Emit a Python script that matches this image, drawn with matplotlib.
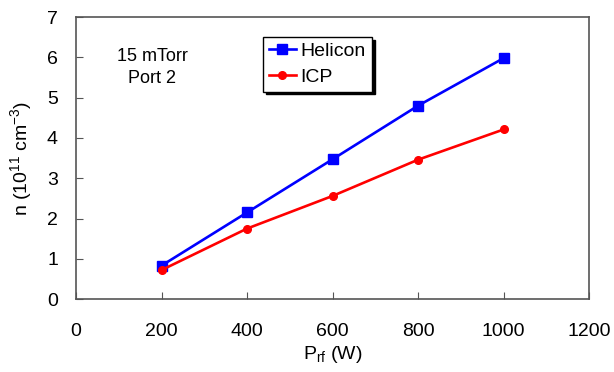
import matplotlib
matplotlib.use("Agg")
import matplotlib.pyplot as plt
from matplotlib.patches import Shadow

plt.rcParams['font.family'] = ['Liberation Sans', 'DejaVu Sans']
plt.rcParams['mathtext.fontset'] = 'custom'
plt.rcParams['mathtext.rm'] = 'Liberation Sans'
plt.rcParams['mathtext.it'] = 'Liberation Sans'

power = [200, 400, 600, 800, 1000]
helicon = [0.83, 2.15, 3.47, 4.80, 5.98]
icp = [0.72, 1.75, 2.56, 3.46, 4.21]
x_ticks = [0, 200, 400, 600, 800, 1000, 1200]
y_ticks = [0, 1, 2, 3, 4, 5, 6, 7]

fig = plt.figure(figsize=(6.14, 3.72), dpi=100)
ax = fig.add_axes([0.1238, 0.196, 0.8355, 0.758])

ax.plot(power, helicon, color='#0000ff', lw=1.9, marker='s', ms=6.5, label='Helicon')
ax.plot(power, icp, color='#ff0000', lw=1.9, marker='o', ms=5.5, label='ICP')

ax.set_xlim(0, 1200)
ax.set_ylim(0, 7)
ax.set_xticks(x_ticks)
ax.set_yticks(y_ticks)
ax.tick_params(direction='in', length=5, width=0.8, colors='#555555',
               labelsize=14, labelcolor='black')
ax.tick_params(axis='y', pad=13)
ax.tick_params(axis='x', pad=17)
for s in ax.spines.values():
    s.set_color('#555555')
    s.set_linewidth(1.2)

ax.set_xlabel(r'P$_{\rm rf}$ (W)', fontsize=14, labelpad=3)
ax.set_ylabel(r'n (10$^{11}$ cm$^{-3}$)', fontsize=14, labelpad=9)

ax.text(178, 5.75, '15 mTorr\nPort 2', fontsize=13, ha='center', va='center',
        linespacing=1.4, transform=ax.transData)

leg = ax.legend(loc='upper left', bbox_to_anchor=(0.364, 0.93), fontsize=14,
                frameon=True, fancybox=False, edgecolor='black', framealpha=1,
                handlelength=1.4, handletextpad=0.25, borderpad=0.3,
                labelspacing=0.4, borderaxespad=0)
leg.get_frame().set_linewidth(1.0)
leg.set_zorder(5)
fig.canvas.draw()
sh = Shadow(leg.get_frame(), 2, -2, color='black', alpha=1)
sh.set_zorder(4)
ax.add_artist(sh)

fig.savefig('out.png', dpi=100)
